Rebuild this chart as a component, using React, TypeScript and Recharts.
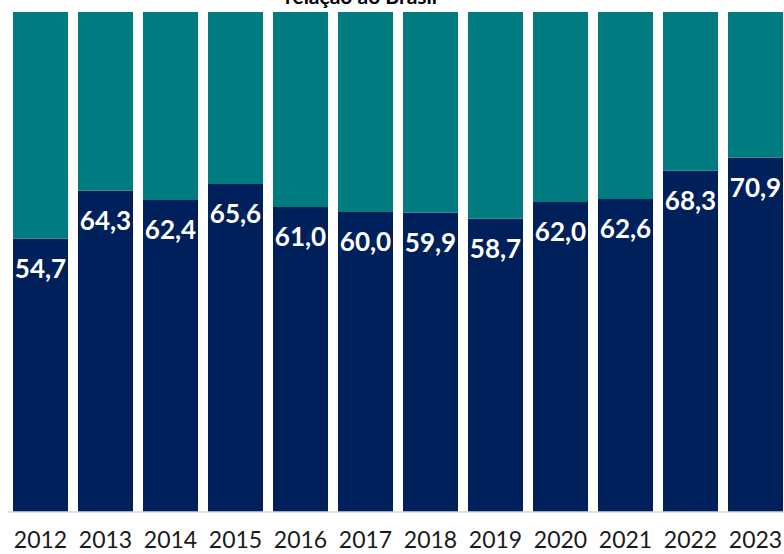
import React from "react";
import { BarChart, Bar, XAxis, YAxis, LabelList } from "recharts";

const years = ["2012", "2013", "2014", "2015", "2016", "2017", "2018", "2019", "2020", "2021", "2022", "2023"];
const shareValues = [54.7, 64.3, 62.4, 65.6, 61.0, 60.0, 59.9, 58.7, 62.0, 62.6, 68.3, 70.9];
const restValues = [45.3, 35.7, 37.6, 34.4, 39.0, 40.0, 40.1, 41.3, 38.0, 37.4, 31.7, 29.1];

const data = years.map((year, i) => ({ year, share: shareValues[i], rest: restValues[i] }));

const NAVY = "#00205c";
const TEAL = "#007c80";

const renderValue = (props: any) => {
  const { x, y, width, value } = props;
  return (
    <text
      x={x + width / 2}
      y={y + 39}
      textAnchor="middle"
      fill="#ffffff"
      fontSize={26}
      fontWeight={700}
      fontFamily="Lato, 'DejaVu Sans', sans-serif"
    >
      {Number(value).toFixed(1).replace(".", ",")}
    </text>
  );
};

export default function App() {
  return (
    <div style={{ position: "absolute", left: 0, top: 0, width: 784, height: 554, overflow: "hidden", background: "#fff" }}>
      <BarChart
        width={790}
        height={554}
        data={data}
        margin={{ top: 12, right: 2, left: 8, bottom: 0 }}
        barCategoryGap="7.7%"
      >
        <text
          x={361}
          y={4}
          textAnchor="middle"
          fontSize={21}
          fontWeight={700}
          fill="#000"
          fontFamily="Lato, 'DejaVu Sans', sans-serif"
        >
          relação ao Brasil
        </text>
        <XAxis
          dataKey="year"
          height={42}
          axisLine={{ stroke: "#d9d9d9", strokeWidth: 1.5 }}
          tickLine={false}
          interval={0}
          tick={{ fill: "#1a1a1a", fontSize: 23, fontFamily: "Lato, 'DejaVu Sans', sans-serif", dy: 12 }}
        />
        <YAxis hide domain={[0, 100]} />
        <Bar dataKey="share" stackId="a" fill={NAVY} isAnimationActive={false}>
          <LabelList dataKey="share" content={renderValue} />
        </Bar>
        <Bar dataKey="rest" stackId="a" fill={TEAL} isAnimationActive={false} />
      </BarChart>
    </div>
  );
}
